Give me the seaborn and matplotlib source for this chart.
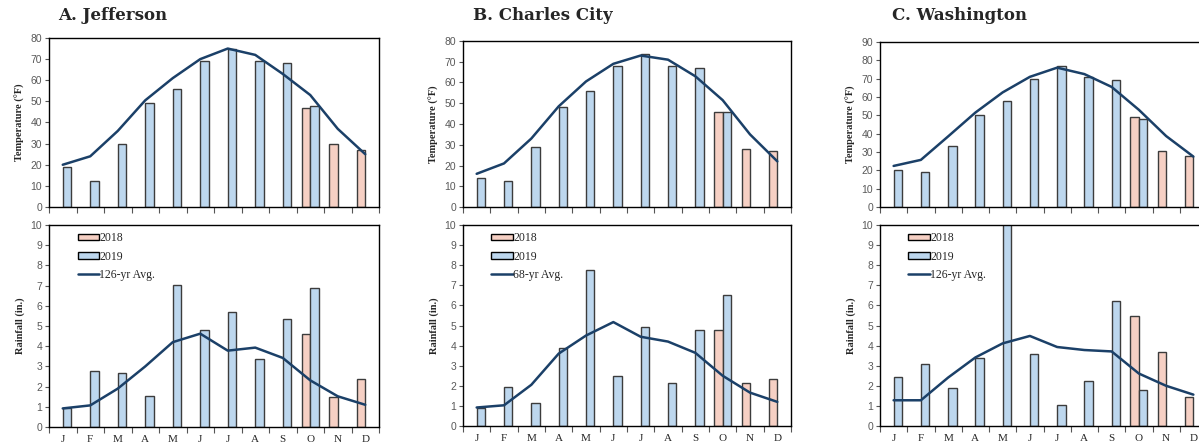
import numpy as np
import pandas as pd
import matplotlib
matplotlib.use('Agg')
import matplotlib.pyplot as plt
import seaborn as sns
from matplotlib.patches import Patch
from matplotlib.lines import Line2D

sns.set_theme(style='white')
plt.rcParams['font.family'] = ['Liberation Serif', 'DejaVu Serif']

# 월 카테고리
months = ['Jan', 'Feb', 'Mar', 'Apr', 'May', 'Jun', 'Jul', 'Aug', 'Sep', 'Oct', 'Nov', 'Dec']
month_labels = ['J', 'F', 'M', 'A', 'M', 'J', 'J', 'A', 'S', 'O', 'N', 'D']
years = ['2018', '2019']

# A. Jefferson
jef_temp_2018 = [None, None, None, None, None, None, None, None, None, 47, 30, 27]
jef_temp_2019 = [19, 12.5, 30, 49, 56, 69, 75, 69, 68, 48, None, None]
jef_temp_avg = [20, 24, 36, 50.5, 61, 70, 75, 72, 63, 53, 37, 25]
jef_rain_2018 = [None, None, None, None, None, None, None, None, None, 4.6, 1.47, 2.38]
jef_rain_2019 = [0.93, 2.76, 2.66, 1.52, 7.05, 4.82, 5.69, 3.37, 5.36, 6.88, None, None]
jef_rain_avg = [0.92, 1.07, 1.9, 3.0, 4.2, 4.62, 3.78, 3.93, 3.42, 2.31, 1.52, 1.1]

# B. Charles City
cc_temp_2018 = [None, None, None, None, None, None, None, None, None, 46, 28, 27]
cc_temp_2019 = [14, 12.7, 29, 48, 56, 68, 73.5, 68, 67, 46, None, None]
cc_temp_avg = [16, 21, 33, 48.5, 60.5, 69, 73, 71, 63, 51.5, 35, 22]
cc_rain_2018 = [None, None, None, None, None, None, None, None, None, 4.76, 2.16, 2.33]
cc_rain_2019 = [0.92, 1.95, 1.15, 3.86, 7.74, 2.5, 4.94, 2.16, 4.76, 6.54, None, None]
cc_rain_avg = [0.92, 1.03, 2.05, 3.6, 4.5, 5.17, 4.44, 4.2, 3.64, 2.5, 1.66, 1.2]

# C. Washington
wa_temp_2018 = [None, None, None, None, None, None, None, None, None, 49, 30.7, 28]
wa_temp_2019 = [20, 19, 33.5, 50, 57.7, 70, 77, 71, 69, 48, None, None]
wa_temp_avg = [22.4, 25.7, 38.5, 51.5, 62.5, 71, 76, 72.5, 65.5, 53, 38.7, 27.5]
wa_rain_2018 = [None, None, None, None, None, None, None, None, None, 5.47, 3.68, 1.43]
wa_rain_2019 = [2.45, 3.09, 1.9, 3.36, 10.3, 3.58, 1.05, 2.23, 6.2, 1.8, None, None]
wa_rain_avg = [1.28, 1.28, 2.41, 3.41, 4.11, 4.48, 3.93, 3.78, 3.71, 2.61, 2.0, 1.56]

titles = ['A. Jefferson', 'B. Charles City', 'C. Washington']
avg_labels = ['126-yr Avg.', '68-yr Avg.', '126-yr Avg.']
temp_max = [80, 80, 90]

c2018 = '#F6D0C4'
c2019 = '#BDD7EE'
cline = '#1B4068'
cedge = '#3c3c3c'

stations = [
    (jef_temp_2018, jef_temp_2019, jef_temp_avg, jef_rain_2018, jef_rain_2019, jef_rain_avg),
    (cc_temp_2018, cc_temp_2019, cc_temp_avg, cc_rain_2018, cc_rain_2019, cc_rain_avg),
    (wa_temp_2018, wa_temp_2019, wa_temp_avg, wa_rain_2018, wa_rain_2019, wa_rain_avg),
]

W, H = 1199, 445
fig = plt.figure(figsize=(W / 100, H / 100), dpi=100)

# 픽셀 단위 위치 (left, right, top_top, top_bottom, bot_top, bot_bottom)
pos_px = [(49, 379, 38, 207, 225, 427),
          (463, 791, 41, 207, 225, 426),
          (880, 1207, 42, 207, 225, 426)]
title_x = [58, 473, 892]


def long_df(v18, v19):
    df = pd.DataFrame({'month': months * 2,
                       'year': ['2018'] * 12 + ['2019'] * 12,
                       'value': [np.nan if v is None else v for v in v18 + v19]})
    return df


def style_axis(ax, ymax, step, ylabel, show_x):
    ax.set_xlim(-0.5, 11.5)
    ax.set_ylim(0, ymax)
    ax.set_yticks(np.arange(0, ymax + 0.01, step))
    ax.set_ylabel(ylabel, fontsize=7.5, fontweight='bold', labelpad=4)
    ax.set_xlabel('')
    for s in ax.spines.values():
        s.set_visible(True)
        s.set_color('black')
        s.set_linewidth(1.0)
    ax.set_xticks(np.arange(-0.5, 12, 1), minor=True)
    ax.tick_params(axis='x', which='minor', length=4, width=0.8, direction='out', bottom=True, color='#555555')
    ax.tick_params(axis='x', which='major', length=0, pad=6)
    ax.tick_params(axis='y', which='major', length=3, width=0.8, direction='out', left=True, color='#555555', pad=2)
    for lab in ax.get_yticklabels():
        lab.set_fontfamily('Liberation Sans')
        lab.set_fontsize(7.5)
        lab.set_color('#595959')
    ax.set_xticks(range(12))
    if show_x:
        ax.set_xticklabels(month_labels, fontsize=8)
    else:
        ax.set_xticklabels([])


for i, st in enumerate(stations):
    t18, t19, tavg, r18, r19, ravg = st
    left, right, tt, tb, bt, bb = pos_px[i]
    ax_t = fig.add_axes([left / W, 1 - tb / H, (right - left) / W, (tb - tt) / H])
    ax_b = fig.add_axes([left / W, 1 - bb / H, (right - left) / W, (bb - bt) / H])

    # 기온
    sns.barplot(data=long_df(t18, t19), x='month', y='value', hue='year', hue_order=years,
                palette=[c2018, c2019], order=months, width=0.62, edgecolor=cedge,
                linewidth=1.0, saturation=1, legend=False, ax=ax_t)
    ax_t.plot(np.arange(12), tavg, color=cline, lw=1.8)
    style_axis(ax_t, temp_max[i], 10, 'Temperature (°F)', False)

    # 강수량
    sns.barplot(data=long_df(r18, r19), x='month', y='value', hue='year', hue_order=years,
                palette=[c2018, c2019], order=months, width=0.62, edgecolor=cedge,
                linewidth=1.0, saturation=1, legend=False, ax=ax_b)
    ax_b.plot(np.arange(12), ravg, color=cline, lw=1.8)
    style_axis(ax_b, 10, 1, 'Rainfall (in.)', True)

    handles = [Patch(facecolor=c2018, edgecolor='black', linewidth=1.0),
               Patch(facecolor=c2019, edgecolor='black', linewidth=1.0),
               Line2D([0], [0], color=cline, lw=1.8)]
    ax_b.legend(handles, ['2018', '2019', avg_labels[i]], loc='upper left',
                bbox_to_anchor=(0.065, 1.0), frameon=False, fontsize=8.5,
                handlelength=1.8, handleheight=0.5, labelspacing=0.55, handletextpad=0.05,
                borderaxespad=0.2)

    fig.text(title_x[i] / W, 1 - 15 / H, titles[i], fontsize=12, fontweight='bold',
             va='center', ha='left', family='DejaVu Serif')

fig.savefig('out.png', dpi=100)
